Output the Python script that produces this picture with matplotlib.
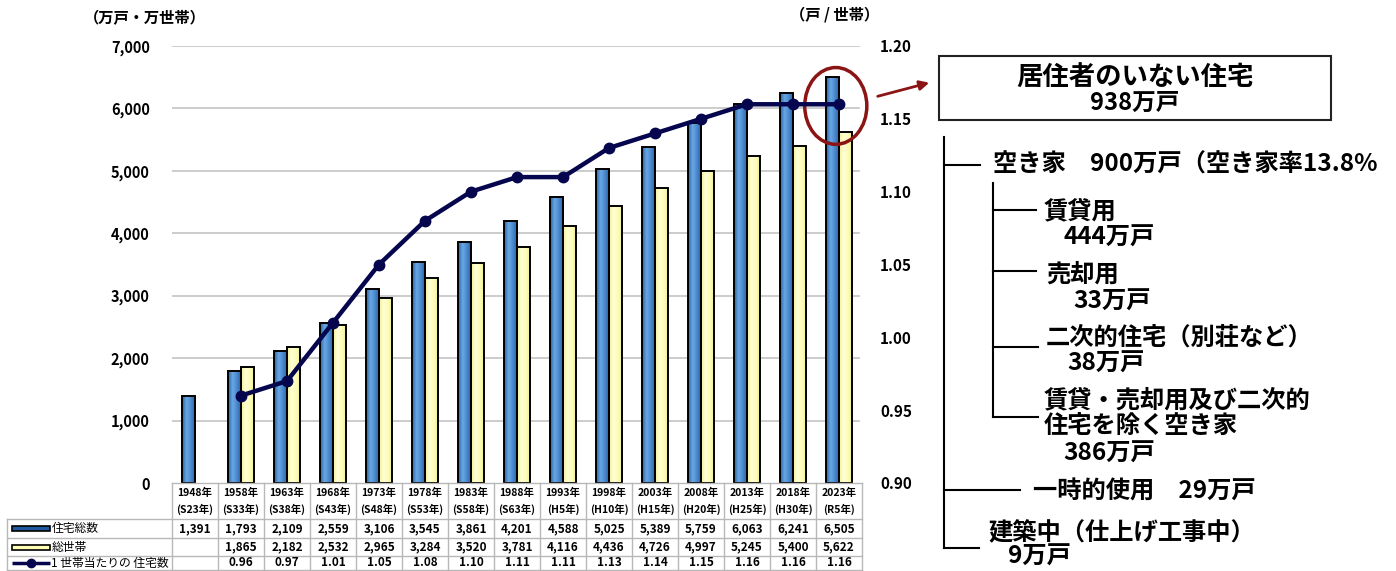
import numpy as np
import matplotlib
matplotlib.use("Agg")
import matplotlib.pyplot as plt
from matplotlib.patches import Ellipse, Rectangle
from matplotlib.lines import Line2D
from matplotlib.colors import LinearSegmentedColormap

plt.rcParams['font.family'] = ['Noto Sans CJK JP', 'DejaVu Sans']
plt.rcParams['font.weight'] = 'bold'

# survey years and their Japanese era labels
years = ["1948年", "1958年", "1963年", "1968年", "1973年", "1978年", "1983年", "1988年",
         "1993年", "1998年", "2003年", "2008年", "2013年", "2018年", "2023年"]
eras = ["(S23年)", "(S33年)", "(S38年)", "(S43年)", "(S48年)", "(S53年)", "(S58年)", "(S63年)",
        "(H5年)", "(H10年)", "(H15年)", "(H20年)", "(H25年)", "(H30年)", "(R5年)"]

# 住宅総数 / 総世帯 (万戸・万世帯), 1世帯当たりの住宅数 (戸/世帯)
housing = [1391, 1793, 2109, 2559, 3106, 3545, 3861, 4201, 4588, 5025, 5389, 5759, 6063, 6241, 6505]
households = [np.nan, 1865, 2182, 2532, 2965, 3284, 3520, 3781, 4116, 4436, 4726, 4997, 5245, 5400, 5622]
per_household = [np.nan, 0.96, 0.97, 1.01, 1.05, 1.08, 1.10, 1.11, 1.11, 1.13, 1.14, 1.15, 1.16, 1.16, 1.16]

series_names = ["住宅総数", "総世帯", "1 世帯当たりの 住宅数"]

YELLOW = "#ffffb4"
NAVY = "#06064e"
DARKRED = "#8b1414"

blue_grad = LinearSegmentedColormap.from_list(
    "bluebar", ["#2a62aa", "#6aa8e2", "#4786cc", "#265c9f"])
yellow_grad = LinearSegmentedColormap.from_list(
    "yellowbar", ["#f2f098", "#ffffd6", "#fdfcb6", "#eeec94"])

W, H = 1396, 571
fig = plt.figure(figsize=(W / 100, H / 100), dpi=100)

x = np.arange(len(years))
ax = fig.add_axes([172 / W, (H - 483) / H, 690 / W, 437 / H])
bw = 0.285


def shaded_bars(xs, heights, cmap):
    # bars with a horizontal gradient fill and black outline
    bars = ax.bar(xs, heights, width=bw, align='edge', facecolor='none',
                  edgecolor='black', linewidth=1.4, zorder=4)
    grad = np.linspace(0, 1, 64).reshape(1, -1)
    for b in bars:
        h = b.get_height()
        if np.isnan(h):
            continue
        im = ax.imshow(grad, cmap=cmap, aspect='auto', zorder=3,
                       extent=[b.get_x(), b.get_x() + b.get_width(), 0, h])
        im.set_clip_path(b)


shaded_bars(x - bw, housing, blue_grad)
shaded_bars(x, households, yellow_grad)
ax.set_xlim(-0.5, len(years) - 0.5)
ax.set_ylim(0, 7000)
ax.set_yticks(np.arange(0, 7001, 1000))
ax.set_yticklabels([f"{v:,}" for v in range(0, 7001, 1000)], fontsize=10.5)
ax.tick_params(axis='y', length=0, pad=16)
ax.set_xticks([])
for s in ax.spines.values():
    s.set_visible(False)
for v in range(1000, 7001, 1000):
    ax.axhline(v, xmin=0, xmax=0.995, color='#c4c4c4', linewidth=1.2, zorder=1)

ax2 = ax.twinx()
ax2.set_ylim(0.90, 1.20)
ax2.plot(x, per_household, color=NAVY, linewidth=3.2, marker='o', markersize=7.5, zorder=5)
ax2.set_yticks(np.arange(0.90, 1.201, 0.05))
ax2.set_yticklabels([f"{v:.2f}" for v in np.arange(0.90, 1.201, 0.05)], fontsize=11)
ax2.tick_params(axis='y', length=0, pad=13)
for s in ax2.spines.values():
    s.set_visible(False)

fig.text(145 / W, 1 - 18 / H, "（万戸・万世帯）", ha='center', va='center', fontsize=11)
fig.text(835 / W, 1 - 15 / H, "（戸 / 世帯）", ha='center', va='center', fontsize=11)

# highlight on the latest survey
ax.add_patch(Ellipse((13.93, 6040), 1.35, 1230, fill=False, edgecolor=DARKRED,
                     linewidth=2.5, zorder=6, clip_on=False))

# data table under the chart
tab = fig.add_axes([7 / W, (H - 570) / H, 855 / W, 87 / H])
left_edge = -0.5 - 165 / 46
tab.set_xlim(left_edge, len(years) - 0.5)
tab.set_ylim(87, 0)
tab.axis('off')
grid_c = '#b8b8b8'
rows_y = [0, 36, 55, 73, 87]
for yy in rows_y:
    x0 = -0.5 if yy == 0 else left_edge
    tab.plot([x0, len(years) - 0.5], [yy, yy], color=grid_c, linewidth=1, clip_on=False)
tab.plot([left_edge, left_edge], [36, 87], color=grid_c, linewidth=1, clip_on=False)
for i in range(len(years) + 1):
    tab.plot([i - 0.5, i - 0.5], [0, 87], color=grid_c, linewidth=1, clip_on=False)
for i in x:
    tab.text(i, 10, years[i], ha='center', va='center', fontsize=7.5)
    tab.text(i, 26, eras[i], ha='center', va='center', fontsize=7.5)
    tab.text(i, 45.5, f"{housing[i]:,}", ha='center', va='center', fontsize=8.5)
    if not np.isnan(households[i]):
        tab.text(i, 64, f"{households[i]:,.0f}", ha='center', va='center', fontsize=8.5)
    if not np.isnan(per_household[i]):
        tab.text(i, 80, f"{per_household[i]:.2f}", ha='center', va='center', fontsize=8.5)

# legend keys in the first table column
kx0 = left_edge + 5 / 46
kx1 = left_edge + 43 / 46
tab.add_patch(Rectangle((kx0, 43), kx1 - kx0, 5, facecolor='#1f5a9e', edgecolor='black', linewidth=1.2))
tab.add_patch(Rectangle((kx0, 61.5), kx1 - kx0, 5, facecolor=YELLOW, edgecolor='black', linewidth=1.2))
tab.add_line(Line2D([kx0, (kx0 + kx1) / 2, kx1], [80, 80, 80], color=NAVY, linewidth=2.5,
                    marker='o', markersize=6, markevery=[1], solid_capstyle='butt'))
for row_y, name in zip([45.5, 64, 80], series_names):
    tab.text(kx1 + 0.03, row_y, name, ha='left', va='center', fontsize=8.5, fontweight='normal')

# overlay for the breakdown of unoccupied dwellings
ov = fig.add_axes([0, 0, 1, 1])
ov.set_xlim(0, W)
ov.set_ylim(H, 0)
ov.axis('off')

ov.annotate("", xy=(932, 82), xytext=(875, 97),
            arrowprops=dict(arrowstyle='-|>', color=DARKRED, lw=2, mutation_scale=14))
ov.add_patch(Rectangle((939, 56), 392, 64, fill=False, edgecolor='#222222', linewidth=1.5))
ov.text(1135, 77, "居住者のいない住宅", ha='center', va='center', fontsize=19)
ov.text(1135, 103, "938万戸", ha='center', va='center', fontsize=17)

lc = 'black'
lw = 1.5
ov.plot([944, 944], [137, 548], color=lc, lw=lw)
ov.plot([944, 980], [165, 165], color=lc, lw=lw)
ov.plot([993, 993], [183, 417], color=lc, lw=lw)
for by, bx in [(210, 1036), (271, 1036), (347, 1038), (417, 1038)]:
    ov.plot([993, bx], [by, by], color=lc, lw=lw)
ov.plot([944, 1020], [490, 490], color=lc, lw=lw)
ov.plot([944, 979], [548, 548], color=lc, lw=lw)

fs = 17.5
items = [
    (993, 165, "空き家　900万戸（空き家率13.8%"),
    (1044, 212, "賃貸用"),
    (1063, 238, "444万戸"),
    (1046, 275, "売却用"),
    (1073, 302, "33万戸"),
    (1046, 338, "二次的住宅（別荘など）"),
    (1067, 364, "38万戸"),
    (1044, 400, "賃貸・売却用及び二次的"),
    (1044, 427, "住宅を除く空き家"),
    (1063, 454, "386万戸"),
    (1033, 492, "一時的使用　29万戸"),
    (988, 533, "建築中（仕上げ工事中）"),
    (1008, 557, "9万戸"),
]
for tx, ty, label in items:
    ov.text(tx, ty, label, ha='left', va='center', fontsize=fs)

fig.savefig("out.png", dpi=100)
